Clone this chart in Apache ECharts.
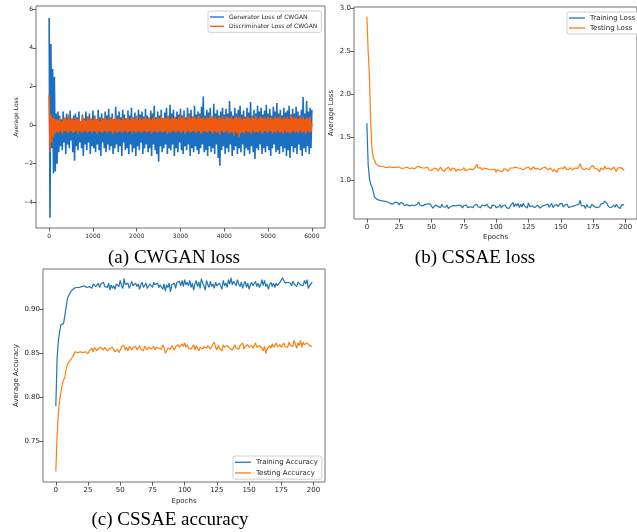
<!DOCTYPE html>
<html>
<head>
<meta charset="utf-8">
<script src="https://cdn.jsdelivr.net/npm/echarts@6/dist/echarts.min.js"></script>
<style>html,body{margin:0;padding:0;background:#fff}#c{width:637px;height:532px}</style>
</head>
<body>
<div id="c"></div>
<script>
// ---------- DATA ----------
const ganStep = 20; // iterations between stored samples
const ganGenerator = [
5.55,-4.8,4.2,-1.2,2.9,-2.5,2.5,-2.4,0.6,-2.0,0.7,-1.4,
0.5,-1.1,0.3,-1.3,0.7,-0.9,0.2,-1.5,0.6,-1.0,0.4,-1.2,0.75,-0.8,0.3,-1.4,0.5,-1.85,0.6,-1.1,
0.4,-1.3,0.7,-0.9,0.2,-1.2,0.55,-1.6,0.35,-1.0,0.7,-1.3,0.45,-0.9,0.6,-1.5,0.3,-1.1,0.75,-1.2,
0.5,-1.4,0.3,-1.0,0.8,-1.3,0.4,-1.6,0.6,-0.9,0.35,-1.2,0.7,-1.4,0.5,-1.0,0.85,-1.3,0.4,-1.1,
0.6,-1.5,0.3,-1.2,0.95,-1.0,0.5,-1.4,0.7,-1.1,0.4,-1.6,0.8,-0.9,0.55,-1.3,0.35,-1.2,0.75,-1.5,
0.5,-1.0,0.9,-1.4,0.4,-1.2,0.65,-1.6,0.3,-1.1,0.8,-1.3,0.55,-0.9,0.7,-1.5,0.45,-1.2,0.85,-1.0,
0.5,-1.4,0.3,-1.2,0.75,-1.6,0.6,-1.0,1.0,-1.3,0.4,-1.5,0.7,-1.9,0.5,-1.1,0.8,-1.4,0.35,-1.2,
0.65,-1.0,0.9,-1.5,0.45,-1.2,1.05,-1.3,0.6,-1.0,0.8,-1.6,0.4,-1.2,0.7,-1.4,0.55,-0.9,0.85,-1.3,
0.5,-1.5,0.75,-1.1,0.4,-1.3,0.9,-1.0,0.6,-1.6,0.8,-1.2,0.45,-1.4,1.0,-1.1,0.55,-1.3,0.7,-1.5,
0.6,-1.2,0.95,-1.0,1.48,-1.4,0.5,-1.3,0.8,-1.6,0.65,-1.1,0.9,-1.4,0.45,-1.2,1.1,-1.5,0.6,-1.0,
0.8,-1.7,0.5,-2.1,0.7,-1.3,0.9,-1.1,0.55,-1.5,0.85,-1.2,0.6,-1.4,1.25,-1.0,0.7,-1.6,0.5,-1.3,
0.9,-1.1,0.6,-1.5,0.8,-1.2,1.0,-1.4,0.55,-1.0,0.75,-1.6,0.45,-1.2,0.9,-1.3,0.65,-1.5,1.2,-1.1,
0.5,-1.4,0.8,-1.75,0.6,-1.2,1.0,-1.3,0.7,-1.0,0.9,-1.5,0.55,-1.2,0.75,-1.4,1.05,-1.1,0.6,-1.3,
0.85,-1.6,0.5,-1.2,0.95,-1.0,0.7,-1.4,1.15,-1.3,0.6,-1.5,0.8,-1.1,0.5,-1.4,0.9,-1.2,0.65,-1.6,
0.75,-1.3,1.0,-1.7,0.55,-1.1,0.85,-1.4,0.6,-1.2,0.95,-1.5,0.7,-1.0,0.5,-1.3,0.8,-1.6,1.45,-1.2,
0.6,-1.4,1.25,-1.1,0.7,-1.5,0.9,-1.2,0.8
];
const ganDiscriminator = [
1.55,-1.4,0.55,-0.9,0.4,-0.6,0.35,-0.45,
0.3,-0.35,0.25,-0.4,0.35,-0.3,0.2,-0.45,0.3,-0.35,0.4,-0.3,0.25,-0.4,0.55,-0.35,0.3,-0.3,0.35,-0.4,
0.25,-0.35,0.4,-0.3,0.3,-0.45,0.35,-0.3,0.2,-0.4,0.45,-0.35,0.3,-0.3,0.25,-0.4,0.4,-0.35,0.3,-0.3,
0.35,-0.4,0.25,-0.3,0.45,-0.35,0.3,-0.45,0.4,-0.3,0.2,-0.35,0.35,-0.4,0.3,-0.3,0.45,-0.35,0.25,-0.4,
0.4,-0.3,0.3,-0.35,0.35,-0.45,0.25,-0.3,0.5,-0.4,0.3,-0.35,0.35,-0.3,0.25,-0.4,0.4,-0.35,0.3,-0.3,
0.3,-0.4,0.45,-0.35,0.25,-0.3,0.4,-0.45,0.35,-0.3,0.3,-0.4,0.5,-0.35,0.25,-0.3,0.4,-0.4,0.3,-0.35,
0.35,-0.3,0.45,-0.4,0.3,-0.35,0.4,-0.3,0.25,-0.45,0.35,-0.35,0.5,-0.3,0.3,-0.4,0.4,-0.35,0.35,-0.3,
0.45,-0.4,0.3,-0.35,0.4,-0.3,0.35,-0.45,0.5,-0.35,0.3,-0.4,0.4,-0.3,0.35,-0.35,0.45,-0.4,0.3,-0.3,
0.4,-0.35,0.5,-0.4,0.35,-0.3,0.45,-0.45,0.3,-0.35,0.4,-0.3,0.55,-0.4,0.35,-0.35,0.4,-0.3,0.45,-0.4,
0.3,-0.35,0.45,-0.3,0.5,-0.45,0.35,-0.4,0.4,-0.3,0.3,-0.35,0.45,-0.4,0.35,-0.3,0.5,-0.35,0.4,-0.45,
0.35,-0.3,0.45,-0.4,0.3,-0.35,0.4,-0.5,0.35,-0.3,0.5,-0.4,0.3,-0.35,0.45,-0.3,0.4,-0.45,0.35,-0.35,
0.45,-0.4,0.3,-0.55,0.4,-0.35,0.5,-0.45,0.35,-0.6,0.45,-0.4,0.3,-0.35,0.4,-0.45,0.35,-0.3,0.45,-0.4,
0.4,-0.35,0.3,-0.45,0.45,-0.3,0.35,-0.4,0.5,-0.35,0.3,-0.4,0.4,-0.3,0.45,-0.45,0.35,-0.35,0.4,-0.3,
0.3,-0.4,0.45,-0.35,0.35,-0.3,0.4,-0.45,0.3,-0.35,0.5,-0.4,0.35,-0.3,0.4,-0.4,0.45,-0.35,0.3,-0.45,
0.4,-0.3,0.35,-0.4,0.45,-0.35,0.3,-0.45,0.55,-0.35,0.4,-0.3,0.35,-0.4,0.45,-0.35,0.3,-0.4,0.4,-0.3,
0.35,-0.4,0.45,-0.35,0.3,-0.45,0.4,-0.3,0.35,-0.4,0.45,-0.35,0.1
];
const trainingLoss = [
1.66,1.18,1.02,0.95,0.92,0.86,0.80,0.785,0.775,0.77,0.765,0.762,0.758,0.755,0.752,0.748,0.745,0.742,0.73,0.738,
0.72,0.71,0.745,0.725,0.735,0.71,0.74,0.72,0.73,0.705,0.725,0.715,0.73,0.70,0.72,0.71,0.725,0.705,0.715,0.72,
0.745,0.71,0.73,0.70,0.72,0.715,0.705,0.725,0.71,0.72,0.70,0.675,0.69,0.71,0.72,0.695,0.705,0.68,0.72,0.69,
0.70,0.685,0.71,0.67,0.69,0.695,0.68,0.705,0.69,0.70,0.68,0.71,0.69,0.70,0.675,0.705,0.69,0.71,0.68,0.70,
0.69,0.71,0.68,0.705,0.695,0.72,0.69,0.70,0.68,0.71,0.69,0.70,0.685,0.72,0.69,0.70,0.67,0.71,0.69,0.705,
0.68,0.70,0.69,0.715,0.675,0.70,0.69,0.71,0.68,0.695,0.67,0.70,0.685,0.74,0.69,0.725,0.70,0.73,0.68,0.72,
0.69,0.73,0.70,0.72,0.675,0.735,0.69,0.71,0.70,0.72,0.68,0.695,0.71,0.70,0.675,0.69,0.70,0.68,0.71,0.69,
0.72,0.685,0.70,0.73,0.68,0.705,0.695,0.715,0.69,0.72,0.70,0.73,0.685,0.71,0.69,0.72,0.68,0.70,0.69,0.71,
0.70,0.68,0.71,0.69,0.72,0.765,0.70,0.69,0.705,0.67,0.715,0.69,0.70,0.68,0.72,0.74,0.69,0.71,0.68,0.70,
0.69,0.72,0.70,0.73,0.755,0.76,0.72,0.69,0.70,0.68,0.70,0.71,0.685,0.72,0.69,0.70,0.67,0.715,0.705,0.71
];
const testingLoss = [
2.90,2.50,2.20,1.66,1.35,1.26,1.23,1.19,1.17,1.165,1.16,1.16,1.155,1.155,1.15,1.145,1.155,1.15,1.14,1.15,
1.155,1.145,1.16,1.15,1.14,1.15,1.165,1.135,1.145,1.14,1.13,1.15,1.14,1.135,1.12,1.14,1.15,1.13,1.145,1.16,
1.175,1.15,1.135,1.14,1.12,1.14,1.13,1.15,1.12,1.13,1.11,1.125,1.14,1.12,1.13,1.105,1.125,1.15,1.12,1.14,
1.10,1.13,1.12,1.15,1.13,1.11,1.14,1.12,1.13,1.10,1.125,1.14,1.115,1.13,1.12,1.145,1.11,1.13,1.12,1.115,
1.13,1.14,1.12,1.135,1.15,1.185,1.14,1.13,1.145,1.12,1.135,1.14,1.12,1.13,1.11,1.12,1.135,1.12,1.10,1.125,
1.09,1.12,1.13,1.105,1.12,1.10,1.13,1.115,1.125,1.10,1.12,1.14,1.125,1.14,1.12,1.15,1.13,1.14,1.12,1.135,
1.15,1.12,1.13,1.14,1.125,1.15,1.13,1.12,1.14,1.155,1.13,1.12,1.135,1.14,1.12,1.13,1.14,1.125,1.15,1.13,
1.12,1.135,1.14,1.12,1.10,1.125,1.14,1.09,1.13,1.15,1.14,1.125,1.135,1.16,1.13,1.14,1.12,1.145,1.13,1.12,
1.13,1.14,1.12,1.135,1.15,1.19,1.14,1.13,1.12,1.10,1.135,1.14,1.12,1.15,1.165,1.17,1.14,1.12,1.13,1.15,
1.10,1.14,1.155,1.12,1.165,1.13,1.11,1.14,1.16,1.12,1.135,1.15,1.13,1.10,1.14,1.12,1.145,1.15,1.13,1.11
];
const trainingAccuracy = [
0.79,0.845,0.865,0.875,0.883,0.884,0.884,0.893,0.895,0.912,0.916,0.918,0.921,0.923,0.924,0.925,0.925,0.926,0.925,0.924,
0.926,0.925,0.927,0.929,0.925,0.927,0.926,0.928,0.924,0.929,0.931,0.926,0.928,0.93,0.925,0.929,0.927,0.931,0.926,0.928,
0.925,0.93,0.922,0.928,0.924,0.927,0.923,0.929,0.931,0.926,0.933,0.927,0.924,0.935,0.928,0.926,0.93,0.924,0.928,0.932,
0.927,0.925,0.93,0.926,0.929,0.923,0.928,0.931,0.925,0.927,0.93,0.924,0.926,0.929,0.927,0.925,0.931,0.928,0.926,0.93,
0.925,0.928,0.927,0.923,0.929,0.921,0.928,0.925,0.93,0.92,0.928,0.926,0.93,0.924,0.931,0.929,0.932,0.927,0.933,0.926,
0.934,0.928,0.931,0.927,0.933,0.925,0.93,0.922,0.929,0.933,0.926,0.931,0.924,0.935,0.93,0.927,0.922,0.933,0.928,0.925,
0.932,0.926,0.929,0.924,0.931,0.927,0.925,0.93,0.928,0.923,0.933,0.927,0.93,0.925,0.934,0.929,0.936,0.928,0.932,0.93,
0.927,0.934,0.929,0.926,0.931,0.924,0.929,0.932,0.925,0.93,0.923,0.928,0.931,0.927,0.929,0.932,0.926,0.93,0.925,0.928,
0.934,0.927,0.933,0.926,0.929,0.923,0.928,0.931,0.926,0.93,0.925,0.93,0.927,0.929,0.931,0.932,0.936,0.933,0.93,0.928,
0.931,0.929,0.93,0.927,0.932,0.929,0.93,0.926,0.931,0.933,0.928,0.93,0.927,0.933,0.929,0.934,0.924,0.927,0.929,0.931
];
const testingAccuracy = [
0.716,0.757,0.783,0.797,0.806,0.815,0.82,0.823,0.832,0.838,0.84,0.842,0.844,0.846,0.849,0.852,0.853,0.851,0.853,0.852,
0.853,0.851,0.853,0.852,0.854,0.85,0.853,0.854,0.856,0.852,0.857,0.855,0.853,0.856,0.854,0.857,0.855,0.854,0.857,0.855,
0.853,0.855,0.856,0.854,0.857,0.855,0.852,0.853,0.855,0.851,0.854,0.858,0.856,0.859,0.854,0.857,0.853,0.858,0.856,0.854,
0.857,0.855,0.858,0.854,0.856,0.859,0.855,0.857,0.853,0.858,0.856,0.854,0.857,0.859,0.855,0.856,0.858,0.854,0.857,0.859,
0.856,0.858,0.855,0.86,0.857,0.85,0.853,0.856,0.858,0.855,0.859,0.857,0.854,0.858,0.856,0.86,0.857,0.855,0.861,0.858,
0.862,0.857,0.86,0.856,0.858,0.855,0.857,0.86,0.854,0.859,0.856,0.853,0.857,0.859,0.855,0.858,0.86,0.856,0.859,0.857,
0.855,0.858,0.856,0.863,0.857,0.854,0.859,0.856,0.858,0.853,0.86,0.857,0.855,0.859,0.861,0.856,0.858,0.854,0.857,0.86,
0.856,0.858,0.855,0.859,0.857,0.862,0.855,0.858,0.856,0.86,0.857,0.855,0.859,0.856,0.858,0.862,0.857,0.855,0.859,0.857,
0.856,0.853,0.858,0.85,0.855,0.857,0.859,0.856,0.861,0.857,0.855,0.862,0.858,0.856,0.86,0.857,0.859,0.862,0.858,0.86,
0.857,0.863,0.859,0.861,0.858,0.865,0.86,0.856,0.862,0.859,0.865,0.857,0.863,0.86,0.858,0.862,0.864,0.859,0.86,0.858
];
const ganXTicks = [0, 1000, 2000, 3000, 4000, 5000, 6000];
const ganYTicks = [-4, -2, 0, 2, 4, 6];
const epochTicks = [0, 25, 50, 75, 100, 125, 150, 175, 200];
const lossYTicks = [1.0, 1.5, 2.0, 2.5, 3.0];
const accYTicks = [0.75, 0.80, 0.85, 0.90];
const captions = ['(a) CWGAN loss', '(b) CSSAE loss', '(c) CSSAE accuracy'];

// ---------- CHART ----------
const BLUE = '#1f77b4', ORANGE = '#ff7f0e', GAN_BLUE = '#1a6fc0', GAN_ORANGE = '#ee5a10';
const FONT = 'DejaVu Sans';
const TXT = '#262626';
const pair = (arr, step) => arr.map((v, i) => [i * step, v]);
const minus = v => (v < 0 ? '\u2212' + Math.abs(v) : String(v));

function axis(gi, min, max, ticks, fmt, fs, margin, extra) {
  return Object.assign({
    type: 'value', gridIndex: gi, min: min, max: max,
    axisLine: { show: false, onZero: false },
    splitLine: { show: false },
    axisTick: { show: true, inside: false, length: 3.5, customValues: ticks, lineStyle: { color: '#333', width: 0.8 } },
    axisLabel: { show: true, customValues: ticks, formatter: fmt, fontSize: fs, color: TXT, fontFamily: FONT, margin: margin }
  }, extra || {});
}
function legend(names, left, top, fs, lh, gap, iw) {
  return {
    data: names, left: left, top: top, orient: 'vertical', icon: 'rect',
    itemWidth: iw, itemHeight: 1.3, itemGap: gap, selectedMode: false,
    padding: [2, 4, 2, 2], borderColor: '#cfcfcf', borderWidth: 1, borderRadius: 2, backgroundColor: '#fff',
    textStyle: { fontSize: fs, lineHeight: lh, color: TXT, fontFamily: FONT }
  };
}
const nameStyle = fs => ({ fontSize: fs, color: TXT, fontFamily: FONT });
const gridStyle = { show: true, borderColor: '#707070', borderWidth: 1, backgroundColor: 'transparent' };

const chart = echarts.init(document.getElementById('c'), null, { renderer: 'canvas' });
chart.setOption({
  animation: false,
  backgroundColor: '#fff',
  grid: [
    Object.assign({ left: 36, top: 6, width: 289, height: 222 }, gridStyle),
    Object.assign({ left: 354, top: 7, width: 285, height: 212 }, gridStyle),
    Object.assign({ left: 43, top: 269, width: 282, height: 213 }, gridStyle)
  ],
  xAxis: [
    axis(0, -300, 6300, ganXTicks, v => String(v), 6, 5),
    axis(1, -9.95, 208.95, epochTicks, v => String(v), 7, 4.5, { name: 'Epochs', nameLocation: 'middle', nameGap: 15, nameTextStyle: nameStyle(7) }),
    axis(2, -9.95, 208.95, epochTicks, v => String(v), 7, 4.5, { name: 'Epochs', nameLocation: 'middle', nameGap: 15.5, nameTextStyle: nameStyle(7) })
  ],
  yAxis: [
    axis(0, -5.33, 6.17, ganYTicks, minus, 6, 3, { name: 'Average Loss', nameLocation: 'middle', nameGap: 17, nameTextStyle: nameStyle(6) }),
    axis(1, 0.548, 3.01, lossYTicks, v => v.toFixed(1), 7, 3, { name: 'Average Loss', nameLocation: 'middle', nameGap: 19, nameTextStyle: nameStyle(7) }),
    axis(2, 0.704, 0.946, accYTicks, v => v.toFixed(2), 7, 3, { name: 'Average Accuracy', nameLocation: 'middle', nameGap: 23, nameTextStyle: nameStyle(7) })
  ],
  legend: [
    legend(['Generator Loss of CWGAN', 'Discriminator Loss of CWGAN'], 208, 11, 6, 8, 1.3, 14),
    legend(['Training Loss', 'Testing Loss'], 567, 12, 7, 8, 2, 16),
    legend(['Training Accuracy', 'Testing Accuracy'], 233, 456, 7, 8.5, 2.2, 16)
  ],
  series: [
    { name: 'Generator Loss of CWGAN', type: 'line', xAxisIndex: 0, yAxisIndex: 0, data: pair(ganGenerator, ganStep), showSymbol: false, color: GAN_BLUE, lineStyle: { width: 1.6, color: GAN_BLUE } },
    { name: 'Discriminator Loss of CWGAN', type: 'line', xAxisIndex: 0, yAxisIndex: 0, data: pair(ganDiscriminator, ganStep), showSymbol: false, color: GAN_ORANGE, lineStyle: { width: 1.6, color: GAN_ORANGE } },
    { name: 'Training Loss', type: 'line', xAxisIndex: 1, yAxisIndex: 1, data: pair(trainingLoss, 1), showSymbol: false, color: BLUE, lineStyle: { width: 1.2, color: BLUE } },
    { name: 'Testing Loss', type: 'line', xAxisIndex: 1, yAxisIndex: 1, data: pair(testingLoss, 1), showSymbol: false, color: ORANGE, lineStyle: { width: 1.2, color: ORANGE } },
    { name: 'Training Accuracy', type: 'line', xAxisIndex: 2, yAxisIndex: 2, data: pair(trainingAccuracy, 1), showSymbol: false, color: BLUE, lineStyle: { width: 1.2, color: BLUE } },
    { name: 'Testing Accuracy', type: 'line', xAxisIndex: 2, yAxisIndex: 2, data: pair(testingAccuracy, 1), showSymbol: false, color: ORANGE, lineStyle: { width: 1.2, color: ORANGE } }
  ],
  graphic: [
    { type: 'text', x: 174, y: 258, style: { text: captions[0], font: '19px "Liberation Serif"', fill: '#000', textAlign: 'center', textVerticalAlign: 'middle' } },
    { type: 'text', x: 475, y: 258, style: { text: captions[1], font: '19px "Liberation Serif"', fill: '#000', textAlign: 'center', textVerticalAlign: 'middle' } },
    { type: 'text', x: 170, y: 520, style: { text: captions[2], font: '19px "Liberation Serif"', fill: '#000', textAlign: 'center', textVerticalAlign: 'middle' } }
  ]
});
</script>
</body>
</html>
